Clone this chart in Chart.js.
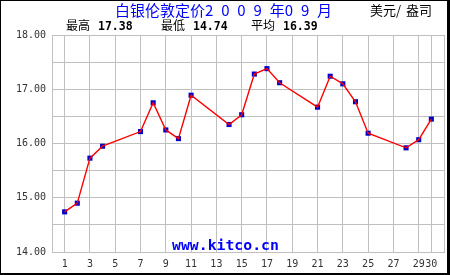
<!DOCTYPE html>
<html>
<head>
<meta charset="utf-8">
<script src="https://cdn.jsdelivr.net/npm/chart.js@4"></script>
<style>
  html, body { margin:0; padding:0; background:#fff; }
  #wrap { position:relative; width:450px; height:275px; overflow:hidden; }
  canvas { position:absolute; left:0; top:0; }
  .t { position:absolute; white-space:pre; line-height:1; }
  #frame { position:absolute; left:0; top:0; width:450px; height:275px; box-sizing:border-box;
           border-left:1px solid #000; border-top:1px solid #000; border-right:3px solid #000; border-bottom:2px solid #000; pointer-events:none; }
</style>
</head>
<body>
<div id="wrap">
  <canvas id="c" width="450" height="275"></canvas>
  <div class="t" id="title" style="left:115px; top:2px; font-family:'Noto Sans CJK SC'; font-size:15px; word-spacing:4.5px; color:#0000ff;">白银伦敦定价2 0 0 9 年0 9 月</div>
  <div class="t" id="unit" style="left:370px; top:3px; font-family:'Noto Sans CJK SC'; font-size:13px; word-spacing:2px; color:#000;">美元/ 盎司</div>
  <div class="t" id="stats" style="left:66px; top:19px; font-size:12px; color:#000;"></div>
  <div class="t" id="wm" style="left:172px; top:238px; font-family:'DejaVu Sans Mono'; font-weight:bold; font-size:14.8px; color:#0000ff;">www.kitco.cn</div>
  <div id="frame"></div>
</div>
<script>
const days   = [1, 2, 3, 4, 7, 8, 9, 10, 11, 14, 15, 16, 17, 18, 21, 22, 23, 24, 25, 28, 29, 30];
const prices = [14.74, 14.90, 15.73, 15.95, 16.22, 16.75, 16.25, 16.09, 16.89, 16.35, 16.53, 17.28, 17.38, 17.12, 16.67, 17.24, 17.10, 16.77, 16.19, 15.92, 16.07, 16.45];
const xTickValues = [1, 3, 5, 7, 9, 11, 13, 15, 17, 19, 21, 23, 25, 27, 29, 30];
const statLabels = ['最高', '最低', '平均'];
const statValues = ['17.38', '14.74', '16.39'];

const statsEl = document.getElementById('stats');
const statLefts = [0, 95, 185];
statLabels.forEach((lab, i) => {
  const s = document.createElement('span');
  s.className = 't';
  s.style.left = statLefts[i] + 'px';
  s.style.top = '0px';
  s.innerHTML = '<span style="font-family:\'Noto Sans CJK SC\';font-size:12px">' + lab + '</span>' +
    '<span style="font-family:\'DejaVu Sans Mono\';font-weight:bold;font-size:11.5px;margin-left:8px">' + statValues[i] + '</span>';
  statsEl.appendChild(s);
});

const pts = days.map((d, i) => ({x: d, y: prices[i]}));

const frameBox = {
  id: 'frameBox',
  beforeDatasetsDraw(chart) {
    const a = chart.chartArea, ctx = chart.ctx;
    ctx.save();
    ctx.strokeStyle = '#c0c0c0';
    ctx.lineWidth = 1;
    ctx.strokeRect(Math.round(a.left) + 0.5, Math.round(a.top) + 0.5, Math.round(a.right - a.left), Math.round(a.bottom - a.top));
    ctx.restore();
  }
};

new Chart(document.getElementById('c'), {
  type: 'line',
  data: {
    datasets: [
      { data: pts, showLine: false, pointStyle: 'rect', pointRadius: 3.6, pointBorderWidth: 0,
        pointBackgroundColor: '#0000c8', pointBorderColor: '#0000c8', order: 2 },
      { data: pts, borderColor: '#ff0000', borderWidth: 1.4, pointRadius: 0, tension: 0, order: 1 }
    ]
  },
  options: {
    responsive: false,
    animation: false,
    layout: { padding: { top: 35, right: 6, left: 0, bottom: 0 } },
    plugins: { legend: { display: false }, tooltip: { enabled: false } },
    scales: {
      x: {
        type: 'linear', min: 0, max: 31,
        afterBuildTicks: s => { s.ticks = xTickValues.map(v => ({ value: v })); },
        afterFit: s => { s.height = 23; },
        ticks: { autoSkip: false, maxRotation: 0, padding: 6, color: '#333',
                 font: { family: 'DejaVu Sans Mono', size: 10 }, callback: v => String(v) },
        grid: { color: '#c0c0c0', drawTicks: false },
        border: { color: '#c0c0c0' }
      },
      y: {
        min: 14, max: 18,
        afterFit: s => { s.width = 52; },
        ticks: { stepSize: 0.5, padding: 6, color: '#333',
                 font: { family: 'DejaVu Sans Mono', size: 10 },
                 callback: v => (Math.abs(v - Math.round(v)) < 1e-6 ? v.toFixed(2) : '') },
        grid: { color: '#c0c0c0', drawTicks: false },
        border: { color: '#c0c0c0' }
      }
    }
  },
  plugins: [frameBox]
});
</script>
</body>
</html>
